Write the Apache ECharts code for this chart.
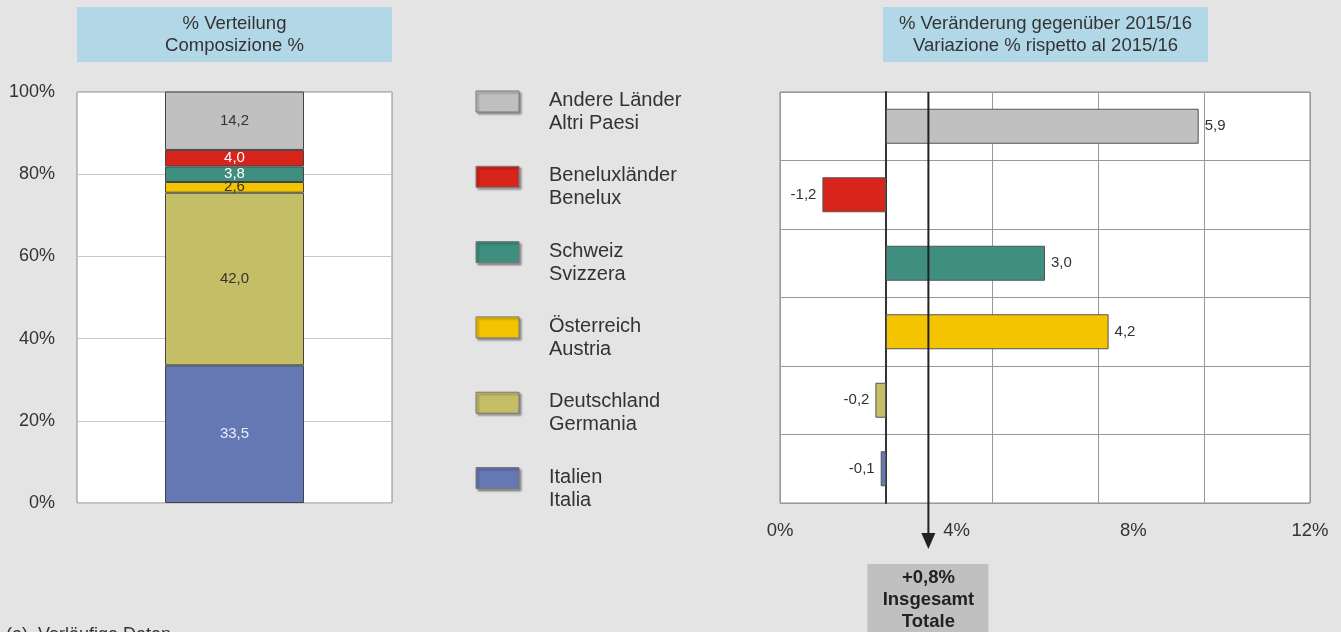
<!DOCTYPE html>
<html>
<head>
<meta charset="utf-8">
<script src="https://cdn.jsdelivr.net/npm/echarts@6/dist/echarts.min.js"></script>
<style>
html,body{margin:0;padding:0;background:#e4e4e4;}
#main{width:1341px;height:632px;}
</style>
</head>
<body>
<div id="main"></div>
<script>
// ---- data ----
const countriesDe = ['Andere Länder', 'Beneluxländer', 'Schweiz', 'Österreich', 'Deutschland', 'Italien'];
const countriesIt = ['Altri Paesi', 'Benelux', 'Svizzera', 'Austria', 'Germania', 'Italia'];
const sharePct = [14.2, 4.0, 3.8, 2.6, 42.0, 33.5];      // % Verteilung (top to bottom)
const changePct = [5.9, -1.2, 3.0, 4.2, -0.2, -0.1];    // % Veränderung 2015/16
const totalChange = 0.8;
const shareTicks = [0, 20, 40, 60, 80, 100];
const changeTickLabels = [0, 4, 8, 12];
const leftTitle = ['% Verteilung', 'Composizione %'];
const rightTitle = ['% Veränderung gegenüber 2015/16', 'Variazione % rispetto al 2015/16'];
const totalBox = ['+0,8%', 'Insgesamt', 'Totale'];
const footnote = '(a)  Vorläufige Daten';

// ---- styles ----
const colors = ['#c0c0c0', '#d9241b', '#3f8f80', '#f5c400', '#c4be67', '#6678b3'];
const shareLabelColors = ['#333', '#fff', '#fff', '#333', '#333', '#e8ecf8'];
const FONT = '"Liberation Sans", Arial, sans-serif';
const fmt = v => v.toFixed(1).replace('.', ',');

const chart = echarts.init(document.getElementById('main'));

const stackSeries = [];
for (let i = sharePct.length - 1; i >= 0; i--) {
  stackSeries.push({
    type: 'bar', name: countriesDe[i], stack: 'share', xAxisIndex: 0, yAxisIndex: 0,
    barWidth: 139,
    data: [sharePct[i]],
    itemStyle: { color: colors[i], borderColor: '#444', borderWidth: 1 },
    label: { show: true, position: 'inside', formatter: p => fmt(p.value),
      color: shareLabelColors[i], fontSize: 15, fontFamily: FONT },
    silent: true, animation: false
  });
}

const option = {
  backgroundColor: '#e4e4e4',
  animation: false,
  textStyle: { fontFamily: FONT },
  grid: [
    { left: 77, right: 1341 - 392, top: 92, bottom: 632 - 503, show: true, backgroundColor: '#fff', borderColor: '#888', borderWidth: 1 },
    { left: 780, right: 1341 - 1310, top: 92, bottom: 632 - 503, show: true, backgroundColor: '#fff', borderColor: '#888', borderWidth: 1 },
    { left: 780, right: 1341 - 1310, top: 92, bottom: 632 - 503, show: false }
  ],
  xAxis: [
    { gridIndex: 0, type: 'category', data: [''], axisLine: { show: false }, axisTick: { show: false }, axisLabel: { show: false } },
    { gridIndex: 1, type: 'value', min: -2, max: 8, interval: 2,
      axisLine: { show: false }, axisTick: { show: false }, axisLabel: { show: false },
      splitLine: { show: true, lineStyle: { color: '#999', width: 1 } } },
    { gridIndex: 2, type: 'value', min: changeTickLabels[0], max: changeTickLabels[changeTickLabels.length - 1], interval: 4,
      axisLine: { show: false }, axisTick: { show: false }, splitLine: { show: false },
      axisLabel: { show: true, formatter: '{value}%', fontSize: 18.5, color: '#333', margin: 18, fontFamily: FONT } }
  ],
  yAxis: [
    { gridIndex: 0, type: 'value', min: shareTicks[0], max: shareTicks[shareTicks.length - 1], interval: 20,
      axisLine: { show: false }, axisTick: { show: false },
      axisLabel: { formatter: '{value}%', fontSize: 18, color: '#333', margin: 22, fontFamily: FONT },
      splitLine: { show: true, lineStyle: { color: '#c8c8c8', width: 1 } } },
    { gridIndex: 1, type: 'category', inverse: true, data: countriesDe,
      axisLine: { show: true, onZero: true, lineStyle: { color: '#333', width: 2 } },
      axisTick: { show: false }, axisLabel: { show: false },
      splitLine: { show: true, lineStyle: { color: '#999', width: 1 } } },
    { gridIndex: 2, type: 'value', show: false }
  ],
  series: stackSeries.concat([
    {
      type: 'bar', xAxisIndex: 1, yAxisIndex: 1, barWidth: 35, silent: true,
      data: changePct.map((v, i) => ({
        value: v,
        itemStyle: { color: colors[i], borderColor: '#555', borderWidth: 1 },
        label: { position: v >= 0 ? 'right' : 'left' }
      })),
      label: { show: true, formatter: p => fmt(p.value), fontSize: 15, color: '#333', distance: 6, fontFamily: FONT },
      z: 3
    }
  ])
};
chart.setOption(option);

// ---- graphic decorations (titles, legend, total marker) ----
const g = [];
function titleBox(x, w, lines) {
  g.push({ type: 'rect', shape: { x: x, y: 7, width: w, height: 55 }, style: { fill: '#b2d8e7' }, z: 10 });
  g.push({ type: 'text', x: x + w / 2, y: 34.5, style: { text: lines.join('\n'), fill: '#333', font: '18.5px ' + FONT,
    align: 'center', verticalAlign: 'middle', lineHeight: 22 }, z: 11 });
}
titleBox(77, 315, leftTitle);
titleBox(883, 325, rightTitle);

const legendTop = 91, legendStep = 75.3;
countriesDe.forEach((n, i) => {
  const y = legendTop + i * legendStep;
  g.push({ type: 'rect', shape: { x: 476, y: y, width: 43, height: 21 },
    style: { fill: colors[i], stroke: '#777', lineWidth: 1, shadowColor: 'rgba(0,0,0,0.35)', shadowBlur: 2, shadowOffsetX: 2, shadowOffsetY: 2 }, z: 10 });
  g.push({ type: 'text', x: 549, y: y - 2, style: { text: n + '\n' + countriesIt[i], fill: '#333', font: '20px ' + FONT,
    align: 'left', verticalAlign: 'top', lineHeight: 23 }, z: 10 });
});

const tx = chart.convertToPixel({ xAxisIndex: 1 }, totalChange);
g.push({ type: 'line', shape: { x1: tx, y1: 92, x2: tx, y2: 536 }, style: { stroke: '#222', lineWidth: 2 }, z: 12 });
g.push({ type: 'polygon', shape: { points: [[tx - 7, 533], [tx + 7, 533], [tx, 549]] }, style: { fill: '#222' }, z: 12 });
g.push({ type: 'rect', shape: { x: tx - 61, y: 564, width: 121, height: 80 }, style: { fill: '#c0c0c0' }, z: 10 });
g.push({ type: 'text', x: tx, y: 567, style: { text: totalBox.join('\n'), fill: '#222', font: 'bold 18.5px ' + FONT,
  align: 'center', verticalAlign: 'top', lineHeight: 22 }, z: 11 });
g.push({ type: 'text', x: 6, y: 626, style: { text: footnote, fill: '#333', font: '18px ' + FONT, align: 'left', verticalAlign: 'top' }, z: 10 });

chart.setOption({ graphic: g });
</script>
</body>
</html>
